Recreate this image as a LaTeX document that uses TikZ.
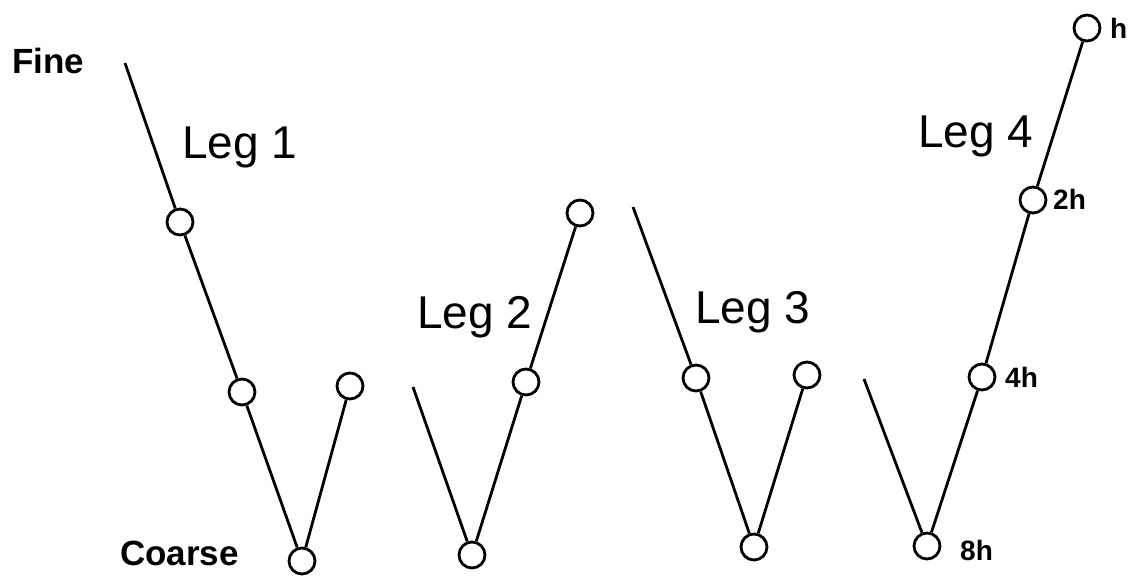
\documentclass[tikz,border=0pt]{standalone}
\usepackage{fontspec}
\setmainfont{Liberation Sans}
\begin{document}
\begin{tikzpicture}[x=1pt,y=-1pt,
  pt/.style={circle,draw,line width=2.8pt,minimum size=26pt,inner sep=0pt,fill=white},
  leg/.style={line width=2.8pt},
  leglabel/.style={anchor=base west,inner sep=0pt,font=\fontsize{46}{46}\selectfont},
  sidelabel/.style={anchor=base west,inner sep=0pt,font=\fontsize{35}{35}\selectfont\bfseries},
  hlabel/.style={anchor=base west,inner sep=0pt,font=\fontsize{28}{28}\selectfont\bfseries}]
\useasboundingbox (0,0) rectangle (1137,576);
% Leg 1
\coordinate (s1) at (125,63);
\node[pt] (a1) at (180,222) {};
\node[pt] (a2) at (242,392) {};
\node[pt] (a3) at (302,561) {};
\node[pt] (a4) at (350,386) {};
\draw[leg] (s1) -- (a1);
\draw[leg] (a1) -- (a2);
\draw[leg] (a2) -- (a3);
\draw[leg] (a3) -- (a4);
% Leg 2
\coordinate (s2) at (413,387);
\node[pt] (b1) at (472,555) {};
\node[pt] (b2) at (526,382) {};
\node[pt] (b3) at (580,213) {};
\draw[leg] (s2) -- (b1);
\draw[leg] (b1) -- (b2);
\draw[leg] (b2) -- (b3);
% Leg 3
\coordinate (s3) at (633,207);
\node[pt] (c1) at (696,378) {};
\node[pt] (c2) at (754,547) {};
\node[pt] (c3) at (807,375) {};
\draw[leg] (s3) -- (c1);
\draw[leg] (c1) -- (c2);
\draw[leg] (c2) -- (c3);
% Leg 4
\coordinate (s4) at (864,379);
\node[pt] (d1) at (927,546) {};
\node[pt] (d2) at (982,377) {};
\node[pt] (d3) at (1033,200) {};
\node[pt] (d4) at (1087,28) {};
\draw[leg] (s4) -- (d1);
\draw[leg] (d1) -- (d2);
\draw[leg] (d2) -- (d3);
\draw[leg] (d3) -- (d4);
% labels
\node[sidelabel] (fine) at (12,73) {Fine};
\node[sidelabel] (coarse) at (120,565) {Coarse};
\node[leglabel] (l1) at (182,158) {Leg 1};
\node[leglabel] (l2) at (417,328) {Leg 2};
\node[leglabel] (l3) at (695,323) {Leg 3};
\node[leglabel] (l4) at (918,147) {Leg 4};
\node[hlabel] (h1) at (1110,38) {h};
\node[hlabel] (h2) at (1053,209) {2h};
\node[hlabel] (h4) at (1005,387) {4h};
\node[hlabel] (h8) at (960,560) {8h};
\end{tikzpicture}
\end{document}
